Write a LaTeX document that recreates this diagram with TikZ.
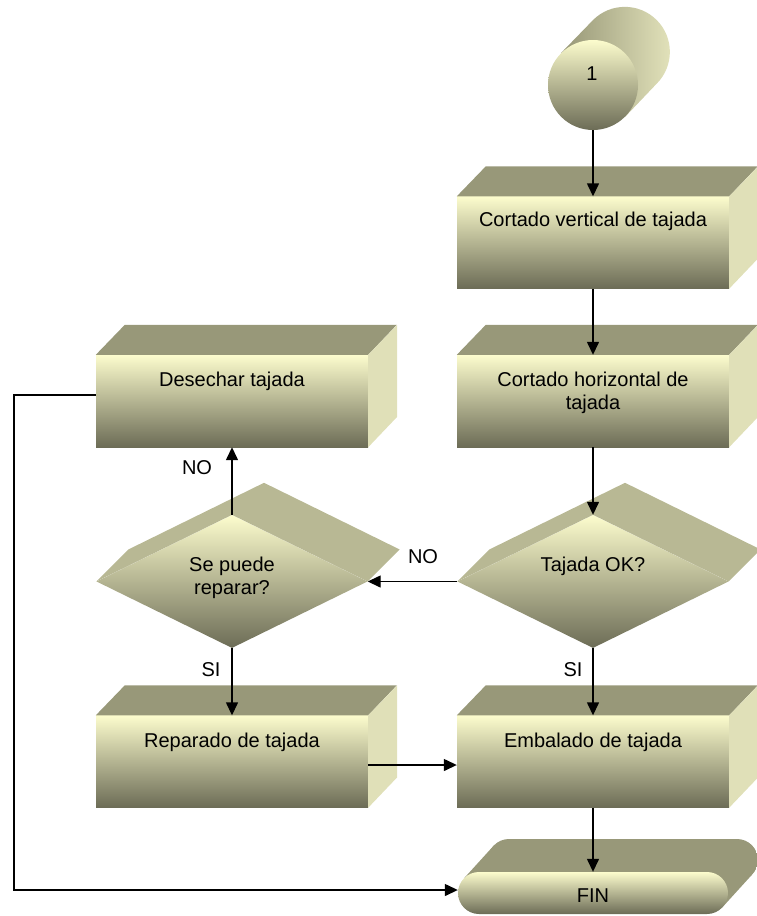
\documentclass[tikz,border=0pt]{standalone}
\usepackage{fontspec}
\setmainfont{Liberation Sans}
\usetikzlibrary{shapes.geometric,arrows.meta,calc}

\definecolor{faceTop}{RGB}{252,252,205}
\definecolor{faceMid}{RGB}{216,216,172}
\definecolor{faceBot}{RGB}{108,108,86}
\definecolor{lidC}{RGB}{152,152,121}
\definecolor{sideC}{RGB}{224,224,184}
\definecolor{extrC}{RGB}{184,184,148}
\definecolor{tubeDark}{RGB}{150,150,118}
\definecolor{tubeLight}{RGB}{228,228,188}

\pgfdeclarehorizontalshading{capback}{100bp}{color(0bp)=(lidC); color(82bp)=(lidC); color(100bp)=(sideC)}

\tikzset{
  face/.style={inner sep=0pt, draw=none, top color=faceTop, middle color=faceMid, bottom color=faceBot},
  blockface/.style={face, rectangle, minimum width=272pt, minimum height=92pt},
  decisionface/.style={face, diamond, minimum width=271pt, minimum height=133pt},
  lbl/.style={font=\fontsize{20}{23}\selectfont, align=center, inner sep=0pt},
  flow/.style={draw=black, line width=1.4pt, -{Triangle[length=13pt,width=12pt]}},
}

% box with a lid and a right side face
\newcommand\solidblock[2]{%
  \node[blockface] (#1) at (#2) {};
  \fill[lidC] (#1.north west) -- ++(29,-30) -- ++(272,0) -- (#1.north east) -- cycle;
  \fill[sideC] (#1.north east) -- ++(29,-30) -- ++(0,92) -- (#1.south east) -- cycle;
}
% extruded decision diamond
\newcommand\soliddecision[2]{%
  \node[decisionface] (#1) at (#2) {};
  \fill[extrC] (#1.west) -- ++(32,-32) -- ($(#1.north)+(32,-32)$) -- ($(#1.east)+(32,-32)$)
     -- (#1.east) -- (#1.north) -- cycle;
}

\begin{document}
\begin{tikzpicture}[x=1pt,y=-1pt]
\useasboundingbox (0,0) rectangle (757,916);

% connector "1": a cylinder seen end-on
\node[circle, inner sep=0pt, minimum size=90pt] (c0) at (593,85) {};
\path[left color=tubeDark, right color=tubeLight]
  (c0.135) -- ++(32,-33) arc[start angle=135, end angle=-45, radius=45pt] -- (c0.-45) -- cycle;
\node[face, circle, minimum size=90pt] (c0f) at (593,85) {};
\node[lbl] (c0t) at (592,74) {1};

% process blocks
\solidblock{b1}{593,242.5}
\node[lbl] (b1t) at (593,221) {Cortado vertical de tajada};
\solidblock{b2}{593,401}
\node[lbl] (b2t) at (593,393) {Cortado horizontal de\\tajada};
\solidblock{b3}{232,401}
\node[lbl] (b3t) at (232,381) {Desechar tajada};
\solidblock{b4}{232,761.5}
\node[lbl] (b4t) at (232,742) {Reparado de tajada};
\solidblock{b5}{593,761.5}
\node[lbl] (b5t) at (593,742) {Embalado de tajada};

% decisions
\soliddecision{d1}{593,581.5}
\node[lbl] (d1t) at (593,566) {Tajada OK?};
\soliddecision{d2}{232,581.5}
\node[lbl] (d2t) at (232,578) {Se puede\\reparar?};

% terminal FIN
\fill[lidC] (464.15,878.15) -- (494.15,845.15) -- (751.85,874.85) -- (721.85,907.85) -- cycle;
\shade[shading=capback] (488,839) [rounded corners=21pt] rectangle (758,881);
\node[face, rectangle, rounded corners=21pt, minimum width=270pt, minimum height=42pt] (fin) at (593,893) {};
\node[lbl] (fint) at (593,896) {FIN};

% connectors
\draw[flow] (c0f.south) -- (b1.north);
\draw[flow] (b1.south) -- (b2.north);
\draw[flow] (b2.south) -- (d1.north);
\draw[flow] (d1.west) -- (d2.east);
\draw[flow] (d2.north) -- (b3.south);
\draw[flow] (d2.south) -- (b4.north);
\draw[flow] (d1.south) -- (b5.north);
\draw[flow] ([yshift=-3.5pt]b4.east) -- ([yshift=-3.5pt]b5.west);
\draw[flow] (b5.south) -- (fin.north);
\draw[flow] ([yshift=6pt]b3.west) -- ++(-82,0) |- ([yshift=3pt]fin.west);

% branch labels
\node[lbl] (no1) at (423,557) {NO};
\node[lbl] (no2) at (197,468) {NO};
\node[lbl] (si1) at (211,670) {SI};
\node[lbl] (si2) at (573,670) {SI};
\end{tikzpicture}
\end{document}
